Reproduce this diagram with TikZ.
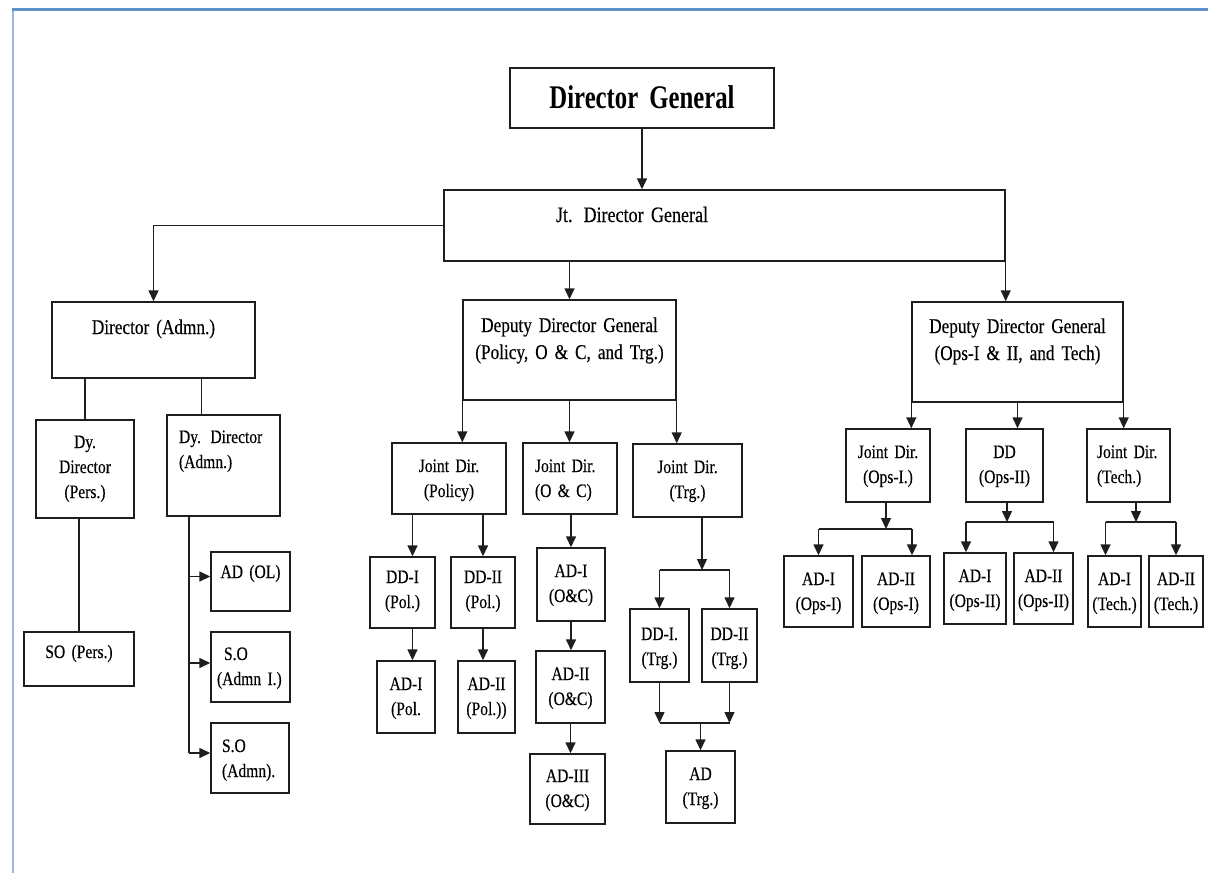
\documentclass[tikz,border=0pt]{standalone}
\usepackage{fontspec}
\setmainfont{Liberation Serif}[FakeStretch=0.82,FakeBold=0.3]
\newfontfamily\dgfont{Liberation Serif}[FakeStretch=0.75]
\usetikzlibrary{arrows.meta}
\definecolor{rulegray}{RGB}{30,30,30}
\definecolor{frametop}{RGB}{95,145,205}
\definecolor{frameside}{RGB}{150,185,225}

\begin{document}
\begin{tikzpicture}[x=1pt,y=-1pt,>={Triangle[length=11pt,width=10pt]},
  post/.style={draw=rulegray, line width=1.4pt, inner xsep=0pt, inner ysep=0pt,
    align=center, anchor=base, font=\fontsize{19}{25}\selectfont},
  bigpost/.style={post, font=\fontsize{21}{27}\selectfont},
  leftpost/.style={post, align=left},
  wire/.style={color=rulegray, line width=1.4pt},
  link/.style={wire, draw}]
  \useasboundingbox (0,0) rectangle (1208,873);
  \draw[frameside, line width=2.5pt] (13,873) -- (13,10);
  \draw[frametop, line width=3pt] (12,9) -- (1208,9);

  \node[post, font=\dgfont\fontsize{33}{36}\selectfont\bfseries, text width=264pt, text height=40pt, text depth=20pt] (dg) at (642,108) {Director General};
  \node[bigpost, font=\fontsize{22}{27}\selectfont, align=left, text width=561pt, text height=32pt, text depth=39pt] (jdg) at (724.5,222) {\hspace*{112pt}Jt. Director General};

  \node[bigpost, text width=203pt, text height=32pt, text depth=44pt] (dira) at (153.5,334) {Director (Admn.)};
  \node[bigpost, text width=213pt, text height=32pt, text depth=68pt] (ddg1) at (569.5,332) {Deputy Director General\\(Policy, O \& C, and Trg.)};
  \node[bigpost, text width=211pt, text height=31pt, text depth=69pt] (ddg2) at (1017.5,333) {Deputy Director General\\(Ops-I \& II, and Tech)};

  \node[post, text width=98pt, text height=28pt, text depth=70pt] (dyp) at (85,448) {Dy.\\Director\\(Pers.)};
  \node[leftpost, inner xsep=12pt, text width=89pt, text height=28pt, text depth=73pt] (dya) at (223.5,443) {Dy. Director\\(Admn.)};
  \node[post, text width=110pt, text height=26pt, text depth=28pt] (sop) at (79,658) {SO (Pers.)};
  \node[post, text width=79pt, text height=26pt, text depth=33pt] (adol) at (250.5,578) {AD (OL)};
  \node[leftpost, inner xsep=6pt, text width=67pt, text height=28pt, text depth=42pt] (soa1) at (250.5,660) {\hspace*{7pt}S.O\\(Admn I.)};
  \node[leftpost, inner xsep=11pt, text width=56pt, text height=29pt, text depth=41pt] (soa2) at (250,752) {S.O\\(Admn).};

  \node[post, text width=114pt, text height=29pt, text depth=42pt] (jdpol) at (449,472) {Joint Dir.\\(Policy)};
  \node[leftpost, inner xsep=12pt, text width=70pt, text height=29pt, text depth=42pt] (jdoc) at (570,472) {Joint Dir.\\(O \& C)};
  \node[post, text width=109pt, text height=29pt, text depth=44pt] (jdtrg) at (687.5,473) {Joint Dir.\\(Trg.)};
  \node[post, text width=65pt, text height=26pt, text depth=45pt] (ddipol) at (402.5,583) {DD-I\\(Pol.)};
  \node[post, text width=64pt, text height=26pt, text depth=45pt] (ddiipol) at (483,583) {DD-II\\(Pol.)};
  \node[post, text width=58pt, text height=29pt, text depth=43pt] (adipol) at (406,690) {AD-I\\(Pol.};
  \node[post, text width=57pt, text height=29pt, text depth=43pt] (adiipol) at (486.5,690) {AD-II\\(Pol.))};
  \node[post, text width=68pt, text height=29pt, text depth=44pt] (adioc) at (571,577) {AD-I\\(O\&C)};
  \node[post, text width=69pt, text height=29pt, text depth=43pt] (adiioc) at (570.5,680) {AD-II\\(O\&C)};
  \node[post, text width=75pt, text height=28pt, text depth=42pt] (adiiioc) at (567.5,782) {AD-III\\(O\&C)};
  \node[post, text width=59pt, text height=31pt, text depth=42pt] (dditrg) at (659.5,640) {DD-I.\\(Trg.)};
  \node[post, text width=55pt, text height=31pt, text depth=42pt] (ddiitrg) at (729.5,640) {DD-II\\(Trg.)};
  \node[post, text width=69pt, text height=29pt, text depth=43pt] (adtrg) at (700.5,780) {AD\\(Trg.)};

  \node[post, text width=84pt, text height=29pt, text depth=44pt] (jdops1) at (888,458) {Joint Dir.\\(Ops-I.)};
  \node[post, text width=77pt, text height=29pt, text depth=44pt] (ddops2) at (1004.5,458) {DD\\(Ops-II)};
  \node[leftpost, inner xsep=10pt, text width=63pt, text height=29pt, text depth=44pt] (jdtech) at (1128.5,458) {Joint Dir.\\(Tech.)};
  \node[post, text width=69pt, text height=29pt, text depth=42pt] (adiops1) at (818.5,585) {AD-I\\(Ops-I)};
  \node[post, text width=68pt, text height=29pt, text depth=42pt] (adiiops1) at (896,585) {AD-II\\(Ops-I)};
  \node[post, text width=62pt, text height=29pt, text depth=42pt] (adiops2) at (975,582) {AD-I\\(Ops-II)};
  \node[post, text width=59pt, text height=29pt, text depth=42pt] (adiiops2) at (1043.5,582) {AD-II\\(Ops-II)};
  \node[post, text width=53pt, text height=29pt, text depth=42pt] (aditech) at (1114.5,585) {AD-I\\(Tech.)};
  \node[post, text width=54pt, text height=29pt, text depth=42pt] (adiitech) at (1176,585) {AD-II\\(Tech.)};

  \coordinate (dyabus) at (189,753);
  \coordinate (olin) at ([yshift=5pt]adol.west);
  \coordinate (soa1in) at ([yshift=4pt]soa1.west);
  \coordinate (soa2in) at ([yshift=5pt]soa2.west);
  \coordinate (trgsplit) at (702,570);
  \coordinate (trgjoin) at (696,723);
  \coordinate (ops1split) at (886,529);
  \coordinate (ops2split) at (1007,522);
  \coordinate (techsplit) at (1136,522);

  \draw[link, ->] (jdg.west) -| (dira.north);
  \draw[link] (dyp.north |- dira.south) -- (dyp.north);
  \draw[link] ([xshift=48pt]dira.south) -- ([xshift=48pt]dira.south |- dya.north);
  \draw[link] (sop.north |- dyp.south) -- (sop.north);
  \draw[link] (dyabus |- dya.south) -- (dyabus);
  \draw[link] (dditrg.north |- trgsplit) -- (ddiitrg.north |- trgsplit);
  \draw[link] (dditrg.south |- trgjoin) -- (ddiitrg.south |- trgjoin);
  \draw[link] (adiops1.north |- ops1split) -- ([xshift=16pt]adiiops1.north |- ops1split);
  \draw[link] ([xshift=-9pt]adiops2.north |- ops2split) -- ([xshift=10pt]adiiops2.north |- ops2split);
  \draw[link] ([xshift=-9pt]aditech.north |- techsplit) -- (adiitech.north |- techsplit);

  \path[->, wire]
    (dg.south) edge (dg.south |- jdg.north)
    (ddg1.north |- jdg.south) edge (ddg1.north)
    (jdg.south east) edge (jdg.south east |- ddg2.north)

    (dyabus |- olin) edge (olin)
    (dyabus |- soa1in) edge (soa1in)
    (dyabus |- soa2in) edge (soa2in)

    (ddg1.south west) edge (ddg1.south west |- jdpol.north)
    (ddg1.south) edge (ddg1.south |- jdoc.north)
    (ddg1.south east) edge (ddg1.south east |- jdtrg.north)
    ([xshift=10pt]ddipol.north |- jdpol.south) edge ([xshift=10pt]ddipol.north)
    (ddiipol.north |- jdpol.south) edge (ddiipol.north)
    ([xshift=10pt]ddipol.south) edge ([xshift=10pt]ddipol.south |- adipol.north)
    (ddiipol.south) edge (ddiipol.south |- adiipol.north)
    (adioc.north |- jdoc.south) edge (adioc.north)
    (adioc.south) edge (adioc.south |- adiioc.north)
    (adiioc.south) edge (adiioc.south |- adiiioc.north)
    (trgsplit |- jdtrg.south) edge (trgsplit)
    (dditrg.north |- trgsplit) edge (dditrg.north)
    (ddiitrg.north |- trgsplit) edge (ddiitrg.north)
    (dditrg.south) edge (dditrg.south |- trgjoin)
    (ddiitrg.south) edge (ddiitrg.south |- trgjoin)
    (adtrg.north |- trgjoin) edge (adtrg.north)

    (ddg2.south west) edge (ddg2.south west |- jdops1.north)
    (ddg2.south) edge (ddg2.south |- ddops2.north)
    (ddg2.south east) edge (ddg2.south east |- jdtech.north)
    (ops1split |- jdops1.south) edge (ops1split)
    (adiops1.north |- ops1split) edge (adiops1.north)
    ([xshift=16pt]adiiops1.north |- ops1split) edge ([xshift=16pt]adiiops1.north)
    (ops2split |- ddops2.south) edge (ops2split)
    ([xshift=-9pt]adiops2.north |- ops2split) edge ([xshift=-9pt]adiops2.north)
    ([xshift=10pt]adiiops2.north |- ops2split) edge ([xshift=10pt]adiiops2.north)
    (techsplit |- jdtech.south) edge (techsplit)
    ([xshift=-9pt]aditech.north |- techsplit) edge ([xshift=-9pt]aditech.north)
    (adiitech.north |- techsplit) edge (adiitech.north)
  ;
\end{tikzpicture}
\end{document}
